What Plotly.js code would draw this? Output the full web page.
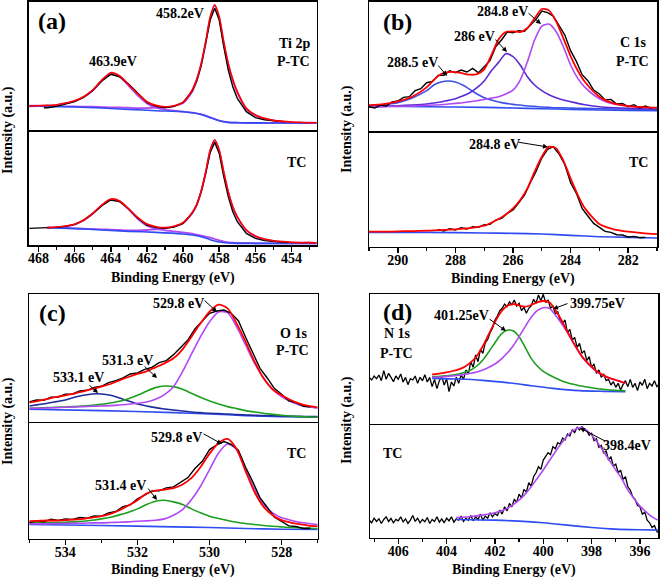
<!DOCTYPE html>
<html><head><meta charset="utf-8">
<script src="https://cdn.plot.ly/plotly-3.0.1.min.js"></script>
<style>html,body{margin:0;padding:0;background:#fff}#chart{width:661px;height:579px}</style>
</head><body><div id="chart"></div>
<script>
// ---------- (a) Ti 2p ----------
const aE = [468.5,468,467.5,467,466.5,466,465.5,465,464.5,464,463.5,463,462.5,462,461.5,461,460.5,460,459.5,459.25,459,458.75,458.5,458.25,458,457.75,457.5,457.25,457,456.5,456,455.5,455,454.5,454,453.5,453,452.6];
const aTopFit = [77,78,79,81,86,93,105,125,155,177,167,140,113,90,79,75,78,89,125,157,205,270,345,381,345,270,205,157,120,70,50,40,34,31,29,28,27,27];
const aTopP1 = [76,77,78,80,85,92,104,123,152,174,164,137,108,85,72,66,63,60,57,55,52,48,43,38,33,30,28,27,27,26,26,26,26,26,26,26,26,26];
const aTopP2 = [78,78,77,77,76,76,75,75,74,73,73,72,71,71,72,74,77,86,120,152,200,265,340,378,340,265,200,152,117,68,49,39,33,30,28,27,27,27];
const aBotFit = [null,null,52,54,57,62,75,95,120,138,132,108,82,63,55,52,56,67,97,121,162,219,285,316,285,219,160,115,85,45,27,18,13,10,8,7,7,6];
const aBotP1 = [null,null,51,53,56,61,74,94,118,136,130,106,78,58,48,44,41,38,34,31,28,25,22,18,14,10,8,7,6,6,5,5,5,5,5,5,5,5];
const aBotP2 = [null,null,53,52,51,50,49,48,47,46,45,44,44,45,47,50,55,65,95,119,160,216,282,313,282,216,158,113,83,44,26,17,12,9,7,7,7,6];
const aBaseE = [468.5,467.5,466,464.5,463,461.5,460,459.5,459,458.5,458,457.5,457,455,452.6];
const aTopBase = [77,76,74,71,67,63,60,57,52,42,33,28,27,26,26];
const aBotBase = [null,52,49,45,41,38,33,30,25,16,9,6,5,5,5];
const aTopRawE = [467.7,467.5,467,466.5,466,465.5,465,464.5,464,463.5,463,462.5,462,461.5,461,460.5,460,459.5,459.25,459,458.75,458.5,458.25,458,457.75,457.5,457.25,457,456.5,456,455.5,455,454.5,454.4];
const aTopRaw = [72,72,76,82,90,103,124,152,172,165,142,115,88,76,72,76,88,122,152,198,262,335,370,335,255,185,135,100,60,42,36,33,30,30];
const aBotRawE = [468.5,468,467.5,467,466.5,466,465.5,465,464.5,464,463.5,463,462.5,462,461.5,461,460.5,460,459.5,459.25,459,458.75,458.5,458.25,458,457.75,457.5,457.25,457,456.5,456,455.5,455,454.5,454.2];
const aBotRaw = [50,50,52,53,56,62,74,94,118,135,130,108,80,60,52,50,54,65,95,120,160,215,278,308,275,205,145,100,70,35,20,13,10,8,7];

// ---------- (b) C 1s ----------
const bE = [291,290.5,290,289.5,289,288.75,288.5,288.25,288,287.75,287.5,287.25,287,286.75,286.5,286.25,286,285.75,285.5,285.25,285,284.75,284.5,284.25,284,283.75,283.5,283,282.5,282,281.5,281];
const bTopFit = [83,86,94,108,136,158,176,182,182,178,174,176,190,233,280,302,304,302,314,343,371,367,333,283,230,186,152,108,88,80,77,75];
const bTopC1 = [80,84,90,104,126,143,152,155,152,143,130,116,105,98,92,88,85,83,80,79,77,76,75,75,74,73,73,72,71,71,70,70];
const bTopC2 = [78,79,81,83,86,89,92,97,102,110,120,135,155,186,211,237,228,203,168,143,126,114,105,98,93,88,84,78,75,73,72,71];
const bTopC3 = [77,78,79,80,82,83,84,86,88,90,93,96,100,104,108,116,128,158,213,278,320,326,303,258,203,163,136,102,86,80,76,74];
const bBotFit = [45,45,46,47,48,49,50,51,52,54,56,59,63,72,83,97,115,140,175,225,270,300,295,258,205,155,115,68,52,45,41,38];
const bBaseE = [291,289,287,286,285,284,283,282,281];
const bTopBase = [80,78,76,74,72,70,68,67,66];
const bBotBase = [43,43,41,40,38,34,30,28,26];
const bTopRawE = [291.0,290.8,290.6,290.4,290.2,290.0,289.8,289.6,289.4,289.2,289.0,288.8,288.6,288.4,288.2,288.0,287.8,287.6,287.4,287.2,287.0,286.8,286.6,286.4,286.2,286.0,285.8,285.6,285.4,285.2,285.0,284.8,284.6,284.4,284.2,284.0,283.8,283.6,283.4,283.2,283.0,282.8,282.6,282.4,282.2,282.0,281.8,281.6,281.4,281.2];
const bTopRaw = [78,74,83,80,92,95,106,108,126,132,150,154,172,172,186,180,188,182,193,180,198,216,258,278,302,300,306,304,322,340,365,360,350,320,293,246,214,174,156,128,116,98,100,86,88,78,84,74,80,73];
const bBotRawE = [288.6,288.4,288.2,288.0,287.8,287.6,287.4,287.2,287.0,286.8,286.6,286.4,286.2,286.0,285.8,285.6,285.4,285.2,285.0,284.8,284.6,284.4,284.2,284.0,283.8,283.6,283.4,283.2,283.0,282.8,282.6,282.4,282.2,282.0,281.8,281.6,281.4];
const bBotRaw = [52,47,54,50,57,53,60,58,66,67,80,85,100,110,132,155,192,226,266,292,300,278,246,192,160,115,92,70,58,46,43,36,35,29,31,27,28];

// ---------- (c) O 1s ----------
const cE = [535,534.75,534.5,534.25,534,533.75,533.5,533.25,533,532.75,532.5,532.25,532,531.75,531.5,531.25,531,530.75,530.5,530.25,530,529.75,529.5,529.25,529,528.75,528.5,528.25,528,527.75,527.5,527.25,527];
const cTopFit = [62,67,73,79,84,89,96,103,110,118,129,139,148,156,168,180,195,222,260,300,335,356,345,300,245,185,135,102,84,70,59,52,48];
const cTopC1 = [52,56,60,65,70,78,84,88,88,84,76,67,58,52,47,43,40,37,34,32,30,29,28,26,25,24,23,23,22,21,21,20,20];
const cTopC2 = [45,46,47,48,49,50,52,54,57,61,66,74,84,96,107,112,110,102,90,78,67,58,50,44,38,34,30,27,24,22,20,19,18];
const cTopC3 = [45,45,46,47,48,49,50,51,52,53,55,57,60,64,72,86,110,155,208,260,305,334,332,290,235,180,135,102,80,65,55,50,45];
const cBotFit = [52,53,54,54,55,57,59,63,67,74,85,99,115,135,144,147,151,162,182,215,255,287,299,269,202,139,95,70,55,48,43,39,37];
const cBotC2 = [47,47,48,48,49,50,52,55,59,64,71,79,89,102,112,115,110,102,89,77,67,60,54,49,45,42,39,37,35,33,32,31,30];
const cBotC3 = [44,44,44,45,45,46,46,47,47,48,49,50,52,53,55,59,70,87,117,157,207,257,284,267,207,147,102,77,62,55,49,45,42];
const cBaseE = [535,533,531,530,529,528,527];
const cTopBase = [42,38,32,28,23,20,18];
const cBotBase = [42,39,35,33,30,28,27];
const cRawE = [535.0,534.8,534.6,534.4,534.2,534.0,533.8,533.6,533.4,533.2,533.0,532.8,532.6,532.4,532.2,532.0,531.8,531.6,531.4,531.2,531.0,530.8,530.6,530.4,530.2,530.0,529.8,529.6,529.4,529.2,529.0,528.8,528.6,528.4,528.2,528.0,527.8,527.6,527.4,527.2];
const cTopRaw = [64,70,69,78,79,87,88,97,99,108,111,122,128,136,148,151,162,168,182,188,206,228,250,284,306,330,337,340,330,308,258,212,165,136,104,87,67,62,51,49];
const cBotRaw = [48,53,50,58,54,59,57,63,61,68,67,77,81,96,101,119,130,143,143,152,155,170,183,211,232,267,281,291,283,265,214,170,122,94,64,51,38,36,30,31];

// ---------- (d) N 1s ----------
const dFitE = [404.6,404.25,404,403.75,403.5,403.25,403,402.75,402.5,402.25,402,401.75,401.5,401.25,401,400.75,400.5,400.25,400,399.75,399.5,399.25,399,398.75,398.5,398.25,398,397.75,397.5,397.25,397,396.75,396.6];
const dTopFit = [152,155,158,162,167,175,188,207,237,273,309,339,357,363,359,355,360,368,372,368,345,315,280,247,217,193,175,159,149,141,135,129,125];
const dTopC1 = [145,146,148,150,153,158,165,177,195,220,247,272,284,283,265,233,200,177,161,150,141,133,127,122,118,115,112,109,107,105,104,103,102];
const dTopC2 = [143,144,146,147,149,152,155,159,165,173,183,197,215,237,265,295,323,343,352,350,330,305,277,245,215,191,173,158,148,140,134,129,126];
const dTBaseE = [404.6,403.5,402.5,401.5,400.5,399.5,398.5,397.5,396.6];
const dTopBase = [140,138,134,127,118,109,103,101,100];
const dBotE = [403.6,403,402.5,402,401.5,401,400.75,400.5,400.25,400,399.75,399.5,399.25,399,398.75,398.5,398.25,398,397.75,397.5,397.25,397,396.75,396.5,396.25,396,395.75,395.5,395.25];
const dBotC = [60,63,67,74,87,112,130,152,177,202,230,257,282,305,321,329,324,307,284,257,230,202,176,142,117,94,77,62,52];
const dBBaseE = [403.6,402,401,400,399,398,397,396,395.25];
const dBotBase = [54,52,49,44,37,30,25,23,22];
const dRawE = [407.2,407.1,407.0,406.9,406.8,406.7,406.6,406.5,406.4,406.3,406.2,406.1,406.0,405.9,405.8,405.7,405.6,405.5,405.4,405.3,405.2,405.1,405.0,404.9,404.8,404.7,404.6,404.5,404.4,404.3,404.2,404.1,404.0,403.9,403.8,403.7,403.6,403.5,403.4,403.3,403.2,403.1,403.0,402.9,402.8,402.7,402.6,402.5,402.4,402.3,402.2,402.1,402.0,401.9,401.8,401.7,401.6,401.5,401.4,401.3,401.2,401.1,401.0,400.9,400.8,400.7,400.6,400.5,400.4,400.3,400.2,400.1,400.0,399.9,399.8,399.7,399.6,399.5,399.4,399.3,399.2,399.1,399.0,398.9,398.8,398.7,398.6,398.5,398.4,398.3,398.2,398.1,398.0,397.9,397.8,397.7,397.6,397.5,397.4,397.3,397.2,397.1,397.0,396.9,396.8,396.7,396.6,396.5,396.4,396.3,396.2,396.1,396.0,395.9,395.8,395.7,395.6,395.5,395.4,395.3,395.2];
const dTopRaw = [143,135,147,139,150,133,163,137,155,143,130,147,137,153,129,143,121,139,135,147,125,143,133,151,129,143,115,137,109,133,145,120,139,100,129,117,143,125,150,137,165,153,190,173,210,190,227,215,247,257,277,290,315,327,343,350,363,355,369,361,375,357,365,343,353,335,350,357,377,365,390,373,392,367,375,350,357,333,339,313,305,315,277,287,255,263,233,245,215,223,193,205,173,183,155,165,143,153,133,137,120,130,113,125,105,121,133,115,137,113,125,103,129,119,137,109,125,117,133,115,123];
const dBotRaw = [52,44,58,48,56,42,54,62,48,57,44,54,50,62,47,56,42,52,66,48,58,44,54,47,60,42,54,48,62,46,56,44,58,50,62,46,56,52,64,48,58,52,66,50,62,54,70,52,64,58,74,62,72,66,82,70,92,80,102,92,114,106,130,118,144,136,164,154,182,194,212,204,232,242,254,248,272,266,284,280,298,292,310,304,322,314,330,322,332,324,320,306,312,290,296,270,276,252,260,232,242,214,220,194,202,174,182,152,142,122,114,96,92,70,76,52,44,30,36,18,14];

// ---------- styling ----------
const RED='#ff0000', BLK='#000000', BLU='#2f4cf2', VIO='#b048f5', IND='#5a2bd3', BLU2='#3c52e6', NAVY='#1f2c9c', GRN='#1e9e1e';
const W=661, H=579, FONT='Liberation Serif, Times New Roman, serif';

function tr(x, y, xa, ya, color, width, spline){
  return {type:'scatter', mode:'lines', x:x, y:y, xaxis:xa, yaxis:ya, hoverinfo:'skip', connectgaps:false,
    line:{color:color, width:width, shape: spline ? 'spline' : 'linear', smoothing:0.7}};
}
const data = [
  // (a)
  tr(aE,aTopP1,'x','y',VIO,1.8,1), tr(aE,aTopP2,'x','y',VIO,1.8,1), tr(aBaseE,aTopBase,'x','y',BLU,1.6,1),
  tr(aTopRawE,aTopRaw,'x','y',BLK,1.4,0), tr(aE,aTopFit,'x','y',RED,1.6,1),
  tr(aE,aBotP1,'x2','y2',VIO,1.8,1), tr(aE,aBotP2,'x2','y2',VIO,1.8,1), tr(aBaseE,aBotBase,'x2','y2',BLU,1.6,1),
  tr(aBotRawE,aBotRaw,'x2','y2',BLK,1.4,0), tr(aE,aBotFit,'x2','y2',RED,1.6,1),
  // (b)
  tr(bBaseE,bTopBase,'x3','y3',BLU,1.6,1), tr(bE,bTopC1,'x3','y3',BLU2,1.6,1), tr(bE,bTopC2,'x3','y3',IND,1.6,1), tr(bE,bTopC3,'x3','y3',VIO,1.6,1),
  tr(bTopRawE,bTopRaw,'x3','y3',BLK,1.4,0), tr(bE,bTopFit,'x3','y3',RED,1.8,1),
  tr(bBaseE,bBotBase,'x4','y4',BLU,1.6,1), tr(bBotRawE,bBotRaw,'x4','y4',BLK,1.4,0), tr(bE,bBotFit,'x4','y4',RED,1.8,1),
  // (c)
  tr(cBaseE,cTopBase,'x5','y5',BLU,1.6,1), tr(cE,cTopC1,'x5','y5',NAVY,1.6,1), tr(cE,cTopC2,'x5','y5',GRN,1.6,1), tr(cE,cTopC3,'x5','y5',VIO,1.6,1),
  tr(cRawE,cTopRaw,'x5','y5',BLK,1.4,0), tr(cE,cTopFit,'x5','y5',RED,1.8,1),
  tr(cBaseE,cBotBase,'x6','y6',BLU,1.6,1), tr(cE,cBotC2,'x6','y6',GRN,1.6,1), tr(cE,cBotC3,'x6','y6',VIO,1.6,1),
  tr(cRawE,cBotRaw,'x6','y6',BLK,1.4,0), tr(cE,cBotFit,'x6','y6',RED,1.8,1),
  // (d)
  tr(dRawE,dTopRaw,'x7','y7',BLK,1.3,0),
  tr(dTBaseE,dTopBase,'x7','y7',BLU,1.6,1), tr(dFitE,dTopC1,'x7','y7',GRN,1.6,1), tr(dFitE,dTopC2,'x7','y7',VIO,1.6,1), tr(dFitE,dTopFit,'x7','y7',RED,1.8,1),
  tr(dRawE,dBotRaw,'x8','y8',BLK,1.3,0),
  tr(dBBaseE,dBotBase,'x8','y8',BLU,1.6,1), tr(dBotE,dBotC,'x8','y8',VIO,1.6,1)
];

function domX(l, r){ return [l/W, r/W]; }
function domY(top, bot){ return [1-bot/H, 1-top/H]; }
function xTop(range, dom, anchor){
  return {domain:dom, range:range, anchor:anchor, side:'top', showline:true, linecolor:'#000', linewidth:1.5,
    mirror:false, ticks:'', showticklabels:false, showgrid:false, zeroline:false, fixedrange:true};
}
function xBot(range, dom, anchor){
  return {domain:dom, range:range, anchor:anchor, showline:true, mirror:true, linecolor:'#000', linewidth:1.5,
    ticks:'outside', ticklen:5, tickwidth:1.5, tickcolor:'#000', tick0:0, dtick:2, ticklabelstandoff:-5,
    minor:{dtick:1, ticks:'outside', ticklen:3, tickwidth:1.2, tickcolor:'#000', showgrid:false},
    tickfont:{family:FONT, size:14, color:'#000', weight:'bold'}, showgrid:false, zeroline:false, fixedrange:true};
}
function yAx(h, dom, anchor){
  return {domain:dom, range:[0,h], anchor:anchor, showline:true, mirror:true, linecolor:'#000', linewidth:1.5,
    ticks:'', showticklabels:false, showgrid:false, zeroline:false, fixedrange:true};
}
const rA=[468.55,452.62], rB=[291.0,281.0], rC=[535.0,527.0], rD=[407.17,395.24];
const layout = {
  width:W, height:H, margin:{l:0,r:0,t:0,b:0}, paper_bgcolor:'#fff', plot_bgcolor:'rgba(0,0,0,0)', showlegend:false,
  xaxis: xTop(rA, domX(28.5,316.5),'y'),   yaxis: yAx(390, domY(1.7,131.7),'x'),
  xaxis2: xBot(rA, domX(28.5,316.5),'y2'), yaxis2: yAx(340, domY(131.7,245),'x2'),
  xaxis3: xTop(rB, domX(369,657),'y3'),    yaxis3: yAx(393, domY(1.7,132.7),'x3'),
  xaxis4: xBot(rB, domX(369,657),'y4'),    yaxis4: yAx(342, domY(132.7,246.7),'x4'),
  xaxis5: xTop(rC, domX(29.3,317.7),'y5'), yaxis5: yAx(388, domY(294,423.3),'x5'),
  xaxis6: xBot(rC, domX(29.3,317.7),'y6'), yaxis6: yAx(346, domY(423.3,538.5),'x6'),
  xaxis7: xTop(rD, domX(370,658.3),'y7'),  yaxis7: yAx(393, domY(294,425),'x7'),
  xaxis8: xBot(rD, domX(370,658.3),'y8'),  yaxis8: yAx(337, domY(425,537.5),'x8'),
  annotations: []
};
function txt(s, px, py, size, angle){
  return {text:'<b>'+s+'</b>', x:px/W, y:1-py/H, xref:'paper', yref:'paper', showarrow:false,
    xanchor:'center', yanchor:'middle', textangle: angle||0,
    font:{family:FONT, size:size||14, color:'#000'}};
}
function arr(tx, ty, hx, hy){
  return {text:'', x:hx/W, y:1-hy/H, xref:'paper', yref:'paper', showarrow:true, ax:tx-hx, ay:ty-hy,
    axref:'pixel', ayref:'pixel', arrowhead:2, arrowsize:1, arrowwidth:1, arrowcolor:'#000', standoff:0, startstandoff:0};
}
const A = layout.annotations;
// panel (a)
A.push(txt('(a)',52,21,24), txt('458.2eV',180,13), txt('463.9eV',113,62), txt('Ti 2p',294,43), txt('P-TC',293,62), txt('TC',296,163));
// panel (b)
A.push(txt('(b)',397,22,24), txt('284.8 eV',502,12), txt('286 eV',474,37), txt('288.5 eV',412,63), txt('C 1s',633,42), txt('P-TC',632,62),
  txt('284.8 eV',494,144), txt('TC',638,163));
A.push(arr(527,12,541,24), arr(494,38,507,52), arr(437,64,447,76), arr(517,142,548,147));
// panel (c)
A.push(txt('(c)',52,313,24), txt('O 1s',293,333), txt('P-TC',292,350), txt('529.8 eV',178,303), txt('531.3 eV',127,360), txt('533.1 eV',78,377),
  txt('529.8 eV',176,437), txt('531.4 eV',120,485), txt('TC',296,453));
A.push(arr(203,299,217,312), arr(143,365,157,378), arr(88,384,98,393), arr(202,433,222,444), arr(147,487,157,500));
// panel (d)
A.push(txt('(d)',397,312,24), txt('N 1s',397,333), txt('P-TC',396,353), txt('401.25eV',462,315), txt('399.75eV',597,303),
  txt('398.4eV',627,445), txt('TC',392,453));
A.push(arr(488,318,506,331), arr(569,303,553,309), arr(607,442,580,428));
// axis titles
A.push(txt('Intensity (a.u.)',8,130,14,-90), txt('Intensity (a.u.)',347,129,14,-90), txt('Intensity (a.u.)',8,421,14,-90), txt('Intensity (a.u.)',347,420,14,-90));
A.push(txt('Binding Energy (eV)',173,278), txt('Binding Energy (eV)',513,279), txt('Binding Energy (eV)',173,570), txt('Binding Energy (eV)',514,570));

Plotly.newPlot('chart', data, layout, {staticPlot:true, displayModeBar:false});
</script></body></html>
